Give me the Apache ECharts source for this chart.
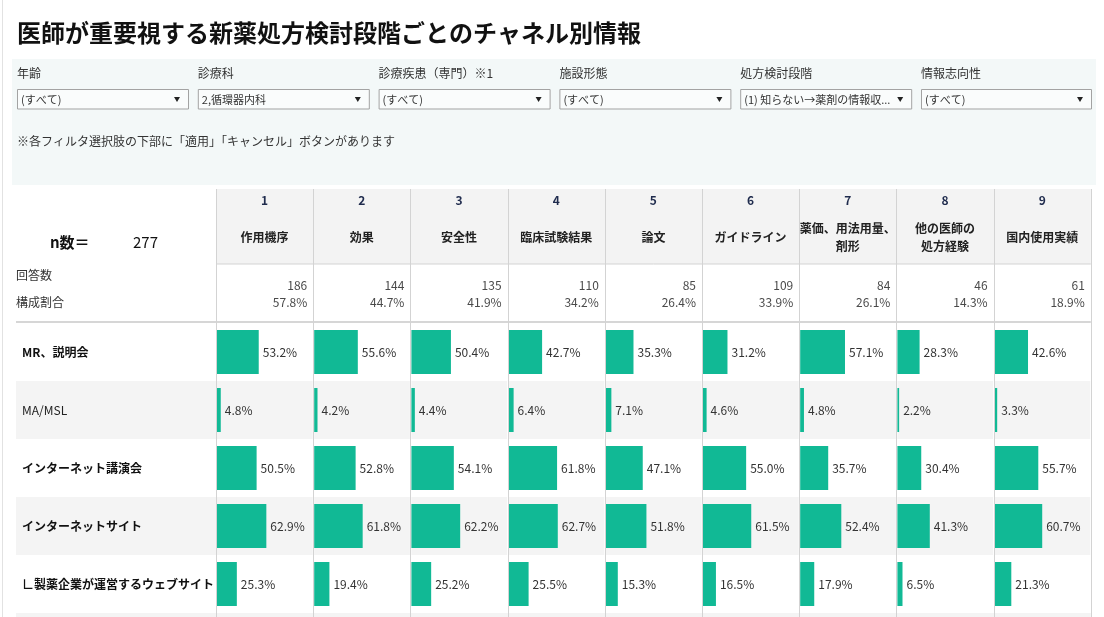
<!DOCTYPE html>
<html><head><meta charset="utf-8">
<script src="https://cdn.jsdelivr.net/npm/echarts@6/dist/echarts.min.js"></script>
<style>html,body{margin:0;padding:0;background:#fff}#c{width:1104px;height:617px}</style>
</head><body><div id="c"></div>
<script>
const titleText = '医師が重要視する新薬処方検討段階ごとのチャネル別情報';
const filterLabels = ['年齢','診療科','診療疾患（専門）※1','施設形態','処方検討段階','情報志向性'];
const filterValues = ['(すべて)','2,循環器内科','(すべて)','(すべて)','(1) 知らない→薬剤の情報収...','(すべて)'];
const noteText = '※各フィルタ選択肢の下部に「適用」「キャンセル」ボタンがあります';
const nTotal = 277;
const colNums = ['1','2','3','4','5','6','7','8','9'];
const colNames = ['作用機序','効果','安全性','臨床試験結果','論文','ガイドライン','薬価、用法用量、\n剤形','他の医師の\n処方経験','国内使用実績'];
const counts = [186,144,135,110,85,109,84,46,61];
const shares = [57.8,44.7,41.9,34.2,26.4,33.9,26.1,14.3,18.9];
const rowLabels = ['MR、説明会','MA/MSL','インターネット講演会','インターネットサイト','∟製薬企業が運営するウェブサイト'];
const valMR = [53.2,55.6,50.4,42.7,35.3,31.2,57.1,28.3,42.6];
const valMA = [4.8,4.2,4.4,6.4,7.1,4.6,4.8,2.2,3.3];
const valWebLecture = [50.5,52.8,54.1,61.8,47.1,55.0,35.7,30.4,55.7];
const valWebSite = [62.9,61.8,62.2,62.7,51.8,61.5,52.4,41.3,60.7];
const valPharmaSite = [25.3,19.4,25.2,25.5,15.3,16.5,17.9,6.5,21.3];
const rowValues = [valMR, valMA, valWebLecture, valWebSite, valPharmaSite];

const FONT = '"Noto Sans CJK JP", "Noto Sans", sans-serif';
const BAR = '#11b995';
const LINE = '#d3d3d3';
const colX0 = 216, colW = 97.2, rowTop = 323, rowH = 58, nRows = rowLabels.length;
const tableBottom = 617, tableRight = colX0 + colW * colNums.length;

const chart = echarts.init(document.getElementById('c'), null, {renderer: 'canvas'});
const graphic = [];
// page left line
graphic.push({type:'rect', shape:{x:2, y:0, width:1, height:617}, style:{fill:'#e2e2e2'}, silent:true});
// title
graphic.push({type:'text', x:17, y:33, style:{text:titleText, font:'bold 24px ' + FONT, fill:'#111', textVerticalAlign:'middle'}});
// filter panel
graphic.push({type:'rect', shape:{x:12, y:59, width:1084, height:126}, style:{fill:'#f3f8f8'}, silent:true});
filterLabels.forEach((t, i) => {
  const x = 17 + i * 180.8;
  graphic.push({type:'text', x:x, y:73, style:{text:t, font:'12px ' + FONT, fill:'#333', textVerticalAlign:'middle'}});
  const w = i === filterLabels.length - 1 ? 170 : 171;
  graphic.push({type:'rect', shape:{x:x + 0.5, y:89.5, width:w, height:19.5}, style:{fill:'#fafcfc', stroke:'#a3a3a3', lineWidth:1}});
  graphic.push({type:'text', x:x + 4, y:99.5, style:{text:filterValues[i], font:'11px ' + FONT, fill:'#333', textVerticalAlign:'middle', width:w - 17, overflow:'truncate', ellipsis:'...'}});
  graphic.push({type:'polygon', shape:{points:[[x + w - 14, 97], [x + w - 8, 97], [x + w - 11, 102]]}, style:{fill:'#222'}});
});
graphic.push({type:'text', x:17, y:141, style:{text:noteText, font:'12px ' + FONT, fill:'#333', textVerticalAlign:'middle'}});
// header
graphic.push({type:'rect', shape:{x:colX0, y:189, width:tableRight - colX0, height:75}, style:{fill:'#f3f3f3'}, silent:true});
colNums.forEach((num, i) => {
  const cx = colX0 + colW * (i + 0.5);
  graphic.push({type:'text', x:cx, y:200, style:{text:num, font:'bold 12px ' + FONT, fill:'#1f2b4d', textAlign:'center', textVerticalAlign:'middle'}});
  graphic.push({type:'text', x:cx, y:237.5, style:{text:colNames[i], font:'bold 12px ' + FONT, fill:'#222', textAlign:'center', textVerticalAlign:'middle', lineHeight:18}});
  const rx = colX0 + colW * (i + 1) - 6;
  graphic.push({type:'text', x:rx, y:285, style:{text:String(counts[i]), font:'12px ' + FONT, fill:'#4a4a4a', textAlign:'right', textVerticalAlign:'middle'}});
  graphic.push({type:'text', x:rx, y:302.5, style:{text:shares[i].toFixed(1) + '%', font:'12px ' + FONT, fill:'#4a4a4a', textAlign:'right', textVerticalAlign:'middle'}});
});
graphic.push({type:'text', x:50, y:242, style:{text:'n数＝', font:'bold 15px ' + FONT, fill:'#111', textVerticalAlign:'middle'}});
graphic.push({type:'text', x:133, y:242, style:{text:String(nTotal), font:'15px ' + FONT, fill:'#111', textVerticalAlign:'middle'}});
graphic.push({type:'text', x:16, y:275, style:{text:'回答数', font:'12px ' + FONT, fill:'#333', textVerticalAlign:'middle'}});
graphic.push({type:'text', x:16, y:302, style:{text:'構成割合', font:'12px ' + FONT, fill:'#333', textVerticalAlign:'middle'}});
// partial next row band
graphic.push({type:'rect', shape:{x:16, y:rowTop + rowH * nRows, width:tableRight - 16, height:10}, style:{fill:'#f4f4f4'}, silent:true, z:-1});
// lines
graphic.push({type:'line', shape:{x1:colX0, y1:264, x2:tableRight, y2:264}, style:{stroke:LINE, lineWidth:1}, z:50});
graphic.push({type:'line', shape:{x1:16, y1:322, x2:tableRight, y2:322}, style:{stroke:'#d6d6d6', lineWidth:2}, z:50});
for (let i = 0; i <= colNums.length; i++) {
  const x = Math.round(colX0 + colW * i) + 0.5;
  graphic.push({type:'line', shape:{x1:x, y1:189, x2:x, y2:tableBottom}, style:{stroke:LINE, lineWidth:1}, z:50});
}

const grids = [], xAxes = [], yAxes = [], series = [];
const bands = {show:true, areaStyle:{color:['#ffffff', '#f4f4f4']}};
// label grid
grids.push({left:16, top:rowTop, width:colX0 - 16, height:rowH * nRows});
xAxes.push({type:'value', gridIndex:0, show:false, min:0, max:1});
yAxes.push({type:'category', gridIndex:0, data:rowLabels, inverse:true,
  axisLine:{show:false}, axisTick:{show:false}, splitLine:{show:false}, splitArea:bands,
  axisLabel:{inside:true, margin:6, align:'left', fontFamily:FONT,
    formatter:(v, idx) => (idx === 1 ? '{n|' + v + '}' : '{b|' + v + '}'),
    rich:{b:{fontFamily:FONT, fontSize:12, fontWeight:'bold', color:'#111'}, n:{fontFamily:FONT, fontSize:12, color:'#222'}}}});
colNums.forEach((num, i) => {
  const gi = i + 1;
  grids.push({left:colX0 + colW * i + 1, top:rowTop, width:colW - 1.5, height:rowH * nRows});
  xAxes.push({type:'value', gridIndex:gi, show:false, min:0, max:122});
  yAxes.push({type:'category', gridIndex:gi, data:rowLabels, inverse:true,
    axisLine:{show:false}, axisTick:{show:false}, axisLabel:{show:false}, splitLine:{show:false}, splitArea:bands});
  series.push({type:'bar', xAxisIndex:gi, yAxisIndex:gi, barWidth:44,
    data:rowValues.map(r => r[i]), itemStyle:{color:BAR},
    label:{show:true, position:'right', distance:4, fontFamily:FONT, fontSize:12, color:'#333',
      formatter:p => p.value.toFixed(1) + '%'}});
});

chart.setOption({animation:false, grid:grids, xAxis:xAxes, yAxis:yAxes, series:series, graphic:graphic});
</script></body></html>
